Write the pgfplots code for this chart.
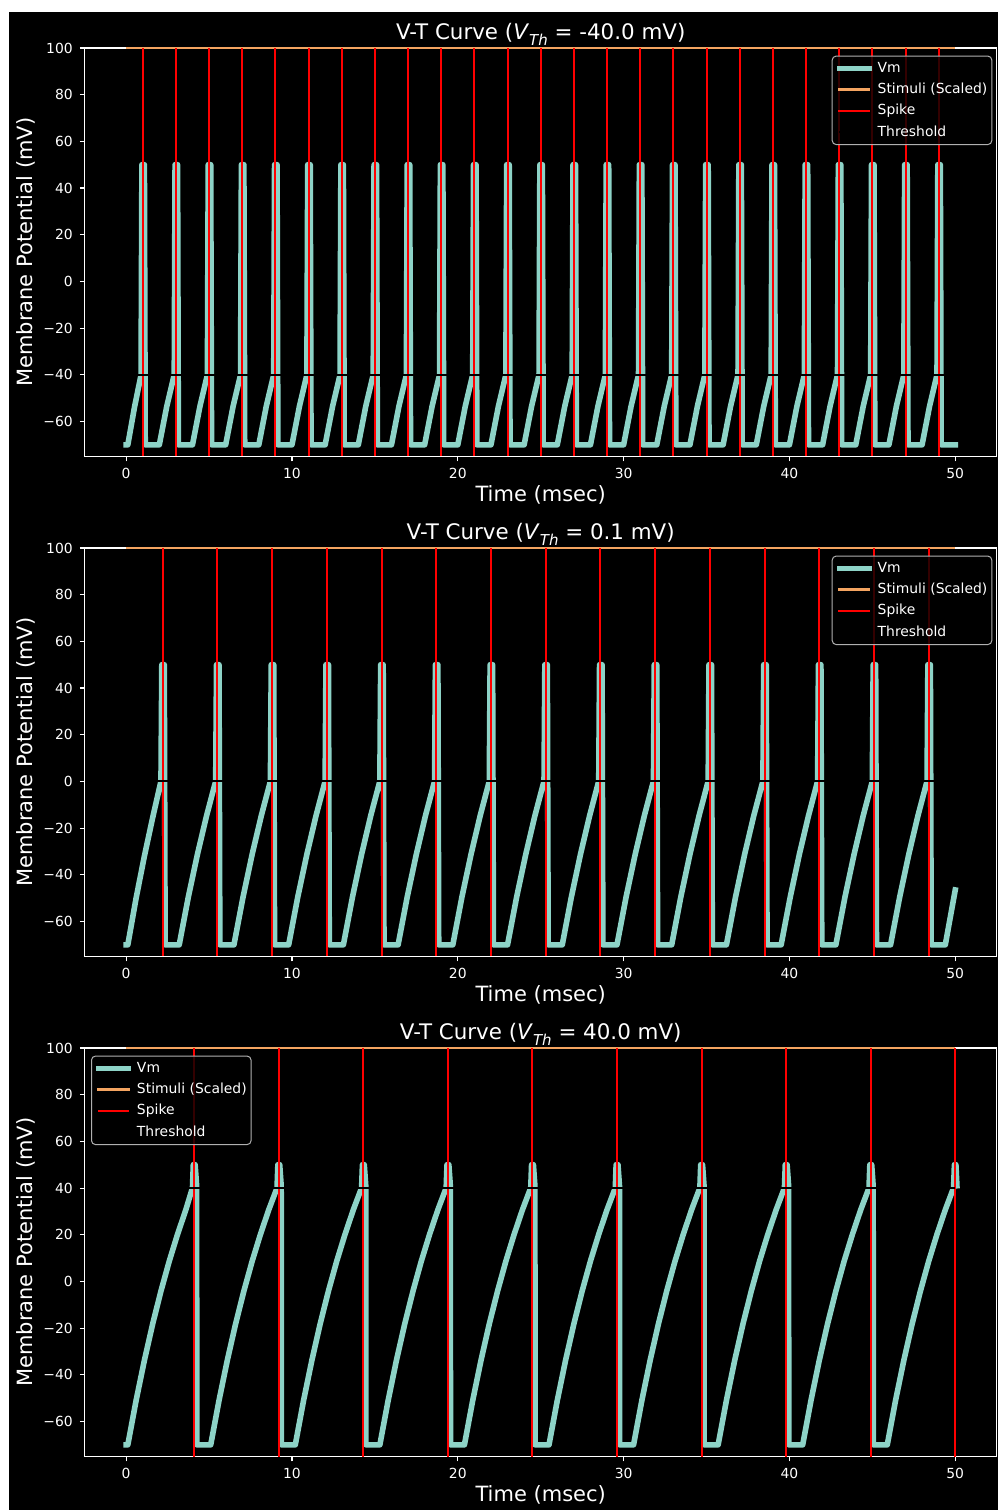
\documentclass[border=0pt]{standalone}
\usepackage{fontspec}
\setmainfont{DejaVu Sans}
\usepackage{pgfplots}
\pgfplotsset{compat=1.18}
\definecolor{vmcol}{HTML}{8DD3C7}
\definecolor{stimcol}{HTML}{F4A460}
\definecolor{legedge}{HTML}{B0B0B0}
\newcommand{\vth}{\textit{V}\raisebox{-0.25em}{\fontsize{7.5}{8}\selectfont\textit{Th}}}
\pgfplotsset{
  vt/.style={
    scale only axis, width=456pt, height=204.25pt,
    xmin=-2.5, xmax=52.5, ymin=-75, ymax=100,
    unbounded coords=jump,
    axis line style={white, line width=0.55pt},
    tick style={white, line width=0.55pt},
    major tick length=2.43pt,
    tick align=outside, tick pos=left,
    xtick={0,10,20,30,40,50},
    xticklabels={0,10,20,30,40,50},
    ytick={-60,-40,-20,0,20,40,60,80,100},
    yticklabels={−60,−40,−20,0,20,40,60,80,100},
    tick label style={font=\fontsize{6.95}{8}\selectfont, text=white},
    xlabel={Time (msec)}, ylabel={Membrane Potential (mV)},
    label style={font=\fontsize{10.5}{12}\selectfont, text=white},
    xlabel style={at={(axis description cs:0.5,-0.1104)}, anchor=base},
    ylabel style={at={(axis description cs:-0.0572,0.5)}, anchor=base},
    title style={at={(axis description cs:0.5,1.0203)}, anchor=base, yshift=-6pt, font=\fontsize{10.7}{12}\selectfont, text=white},
    legend style={fill=black, fill opacity=0.8, text opacity=1, draw=legedge, line width=0.5pt, rounded corners=2pt, text=white, font=\fontsize{6.95}{8}\selectfont, inner xsep=2.2pt, inner ysep=2.75pt, row sep=3.85pt, column sep=3pt, nodes={inner sep=0pt, text height=5.3pt, text depth=1.5pt}},
    legend cell align=left,
    legend image code/.code={\draw[#1, line cap=rect] (0pt,0pt) -- (14.75pt,0pt);},
  },
  vm/.style={vmcol, line width=2.8pt, line join=round, line cap=rect},
  stim/.style={stimcol, line width=1.4pt},
  spk/.style={red, line width=1pt},
  thr/.style={black, line width=0.9pt},
  legR/.style={legend style={at={(1,1)}, anchor=north east, xshift=-2.2pt, yshift=-3.8pt}},
  legL/.style={legend style={at={(0,1)}, anchor=north west, xshift=3.15pt, yshift=-3.8pt}},
}
\begin{document}
\begin{tikzpicture}
\useasboundingbox (0,0) rectangle (499pt,755pt);
\fill[white] (0,0) rectangle (499pt,755pt);
\fill[black] (4.25pt,0) rectangle (499pt,749pt);
% ---------------- Panel 1 ----------------
\begin{axis}[vt, legR, at={(42.35pt,526.75pt)}, anchor=south west,
  title={V-T Curve (\vth{} = -40.0 mV)}]
\addplot[vm] coordinates {
(0,-70) (0.1,-70) (0.5,-54) (0.9,-40) (0.95,50) (1.1,50) (1.15,-70)
(2,-70) (2.45,-53.5) (2.9,-40) (2.95,50) (3.1,50) (3.15,-70)
(4,-70) (4.45,-53.5) (4.9,-40) (4.95,50) (5.1,50) (5.15,-70)
(6,-70) (6.45,-53.5) (6.9,-40) (6.95,50) (7.1,50) (7.15,-70)
(8,-70) (8.45,-53.5) (8.9,-40) (8.95,50) (9.1,50) (9.15,-70)
(10,-70) (10.45,-53.5) (10.9,-40) (10.95,50) (11.1,50) (11.15,-70)
(12,-70) (12.45,-53.5) (12.9,-40) (12.95,50) (13.1,50) (13.15,-70)
(14,-70) (14.45,-53.5) (14.9,-40) (14.95,50) (15.1,50) (15.15,-70)
(16,-70) (16.45,-53.5) (16.9,-40) (16.95,50) (17.1,50) (17.15,-70)
(18,-70) (18.45,-53.5) (18.9,-40) (18.95,50) (19.1,50) (19.15,-70)
(20,-70) (20.45,-53.5) (20.9,-40) (20.95,50) (21.1,50) (21.15,-70)
(22,-70) (22.45,-53.5) (22.9,-40) (22.95,50) (23.1,50) (23.15,-70)
(24,-70) (24.45,-53.5) (24.9,-40) (24.95,50) (25.1,50) (25.15,-70)
(26,-70) (26.45,-53.5) (26.9,-40) (26.95,50) (27.1,50) (27.15,-70)
(28,-70) (28.45,-53.5) (28.9,-40) (28.95,50) (29.1,50) (29.15,-70)
(30,-70) (30.45,-53.5) (30.9,-40) (30.95,50) (31.1,50) (31.15,-70)
(32,-70) (32.45,-53.5) (32.9,-40) (32.95,50) (33.1,50) (33.15,-70)
(34,-70) (34.45,-53.5) (34.9,-40) (34.95,50) (35.1,50) (35.15,-70)
(36,-70) (36.45,-53.5) (36.9,-40) (36.95,50) (37.1,50) (37.15,-70)
(38,-70) (38.45,-53.5) (38.9,-40) (38.95,50) (39.1,50) (39.15,-70)
(40,-70) (40.45,-53.5) (40.9,-40) (40.95,50) (41.1,50) (41.15,-70)
(42,-70) (42.45,-53.5) (42.9,-40) (42.95,50) (43.1,50) (43.15,-70)
(44,-70) (44.45,-53.5) (44.9,-40) (44.95,50) (45.1,50) (45.15,-70)
(46,-70) (46.45,-53.5) (46.9,-40) (46.95,50) (47.1,50) (47.15,-70)
(48,-70) (48.45,-53.5) (48.9,-40) (48.95,50) (49.1,50) (49.15,-70)
(50,-70)};
\addlegendentry{Vm}
\addplot[stim] coordinates {(0,100) (50,100)};
\addlegendentry{Stimuli (Scaled)}
\addplot[spk] coordinates {
(1,-75) (1,100) (1,nan) (3,-75) (3,100) (3,nan) (5,-75) (5,100) (5,nan)
(7,-75) (7,100) (7,nan) (9,-75) (9,100) (9,nan) (11,-75) (11,100) (11,nan)
(13,-75) (13,100) (13,nan) (15,-75) (15,100) (15,nan) (17,-75) (17,100) (17,nan)
(19,-75) (19,100) (19,nan) (21,-75) (21,100) (21,nan) (23,-75) (23,100) (23,nan)
(25,-75) (25,100) (25,nan) (27,-75) (27,100) (27,nan) (29,-75) (29,100) (29,nan)
(31,-75) (31,100) (31,nan) (33,-75) (33,100) (33,nan) (35,-75) (35,100) (35,nan)
(37,-75) (37,100) (37,nan) (39,-75) (39,100) (39,nan) (41,-75) (41,100) (41,nan)
(43,-75) (43,100) (43,nan) (45,-75) (45,100) (45,nan) (47,-75) (47,100) (47,nan)
(49,-75) (49,100)};
\addlegendentry{Spike}
\addplot[thr] coordinates {(0,-40) (50,-40)};
\addlegendentry{Threshold}
\end{axis}
% ---------------- Panel 2 ----------------
\begin{axis}[vt, legR, at={(42.35pt,276.75pt)}, anchor=south west,
  title={V-T Curve (\vth{} = 0.1 mV)}]
\addplot[vm] coordinates {
(0,-70) (0.1,-70) (0.6,-50) (1.1,-32) (1.6,-15.5) (2.1,0.1) (2.15,50) (2.3,50) (2.35,-70)
(3.2,-70) (3.75,-49.5) (4.3,-31.2) (4.85,-14.7) (5.4,0.1) (5.45,50) (5.6,50) (5.65,-70)
(6.5,-70) (7.05,-49.5) (7.6,-31.2) (8.15,-14.7) (8.7,0.1) (8.75,50) (8.9,50) (8.95,-70)
(9.8,-70) (10.35,-49.5) (10.9,-31.2) (11.45,-14.7) (12,0.1) (12.05,50) (12.2,50) (12.25,-70)
(13.1,-70) (13.65,-49.5) (14.2,-31.2) (14.75,-14.7) (15.3,0.1) (15.35,50) (15.5,50) (15.55,-70)
(16.4,-70) (16.95,-49.5) (17.5,-31.2) (18.05,-14.7) (18.6,0.1) (18.65,50) (18.8,50) (18.85,-70)
(19.7,-70) (20.25,-49.5) (20.8,-31.2) (21.35,-14.7) (21.9,0.1) (21.95,50) (22.1,50) (22.15,-70)
(23,-70) (23.55,-49.5) (24.1,-31.2) (24.65,-14.7) (25.2,0.1) (25.25,50) (25.4,50) (25.45,-70)
(26.3,-70) (26.85,-49.5) (27.4,-31.2) (27.95,-14.7) (28.5,0.1) (28.55,50) (28.7,50) (28.75,-70)
(29.6,-70) (30.15,-49.5) (30.7,-31.2) (31.25,-14.7) (31.8,0.1) (31.85,50) (32,50) (32.05,-70)
(32.9,-70) (33.45,-49.5) (34,-31.2) (34.55,-14.7) (35.1,0.1) (35.15,50) (35.3,50) (35.35,-70)
(36.2,-70) (36.75,-49.5) (37.3,-31.2) (37.85,-14.7) (38.4,0.1) (38.45,50) (38.6,50) (38.65,-70)
(39.5,-70) (40.05,-49.5) (40.6,-31.2) (41.15,-14.7) (41.7,0.1) (41.75,50) (41.9,50) (41.95,-70)
(42.8,-70) (43.35,-49.5) (43.9,-31.2) (44.45,-14.7) (45,0.1) (45.05,50) (45.2,50) (45.25,-70)
(46.1,-70) (46.65,-49.5) (47.2,-31.2) (47.75,-14.7) (48.3,0.1) (48.35,50) (48.5,50) (48.55,-70)
(49.4,-70) (50,-46.5)};
\addlegendentry{Vm}
\addplot[stim] coordinates {(0,100) (50,100)};
\addlegendentry{Stimuli (Scaled)}
\addplot[spk] coordinates {
(2.2,-75) (2.2,100) (2.2,nan) (5.5,-75) (5.5,100) (5.5,nan) (8.8,-75) (8.8,100) (8.8,nan)
(12.1,-75) (12.1,100) (12.1,nan) (15.4,-75) (15.4,100) (15.4,nan) (18.7,-75) (18.7,100) (18.7,nan)
(22,-75) (22,100) (22,nan) (25.3,-75) (25.3,100) (25.3,nan) (28.6,-75) (28.6,100) (28.6,nan)
(31.9,-75) (31.9,100) (31.9,nan) (35.2,-75) (35.2,100) (35.2,nan) (38.5,-75) (38.5,100) (38.5,nan)
(41.8,-75) (41.8,100) (41.8,nan) (45.1,-75) (45.1,100) (45.1,nan) (48.4,-75) (48.4,100)};
\addlegendentry{Spike}
\addplot[thr] coordinates {(0,0.1) (50,0.1)};
\addlegendentry{Threshold}
\end{axis}
% ---------------- Panel 3 ----------------
\begin{axis}[vt, legL, at={(42.35pt,26.75pt)}, anchor=south west,
  title={V-T Curve (\vth{} = 40.0 mV)}]
\addplot[vm] coordinates {
(0,-70) (0.1,-70) (0.6,-51) (1.1,-33.8) (1.6,-18.2) (2.1,-4.1) (2.6,8.7) (3.1,20.2) (3.6,30.7) (4,40.1) (4.05,50) (4.16,50) (4.25,41) (4.26,-70)
(5.1,-70) (5.6,-51) (6.1,-33.8) (6.6,-18.2) (7.1,-4.1) (7.6,8.7) (8.1,20.2) (8.6,30.7) (9.1,40.1) (9.15,50) (9.26,50) (9.35,41) (9.36,-70)
(10.2,-70) (10.7,-51) (11.2,-33.8) (11.7,-18.2) (12.2,-4.1) (12.7,8.7) (13.2,20.2) (13.7,30.7) (14.2,40.1) (14.25,50) (14.36,50) (14.45,41) (14.46,-70)
(15.3,-70) (15.8,-51) (16.3,-33.8) (16.8,-18.2) (17.3,-4.1) (17.8,8.7) (18.3,20.2) (18.8,30.7) (19.3,40.1) (19.35,50) (19.46,50) (19.55,41) (19.56,-70)
(20.4,-70) (20.9,-51) (21.4,-33.8) (21.9,-18.2) (22.4,-4.1) (22.9,8.7) (23.4,20.2) (23.9,30.7) (24.4,40.1) (24.45,50) (24.56,50) (24.65,41) (24.66,-70)
(25.5,-70) (26,-51) (26.5,-33.8) (27,-18.2) (27.5,-4.1) (28,8.7) (28.5,20.2) (29,30.7) (29.5,40.1) (29.55,50) (29.66,50) (29.75,41) (29.76,-70)
(30.6,-70) (31.1,-51) (31.6,-33.8) (32.1,-18.2) (32.6,-4.1) (33.1,8.7) (33.6,20.2) (34.1,30.7) (34.6,40.1) (34.65,50) (34.76,50) (34.85,41) (34.86,-70)
(35.7,-70) (36.2,-51) (36.7,-33.8) (37.2,-18.2) (37.7,-4.1) (38.2,8.7) (38.7,20.2) (39.2,30.7) (39.7,40.1) (39.75,50) (39.86,50) (39.95,41) (39.96,-70)
(40.8,-70) (41.3,-51) (41.8,-33.8) (42.3,-18.2) (42.8,-4.1) (43.3,8.7) (43.8,20.2) (44.3,30.7) (44.8,40.1) (44.85,50) (44.96,50) (45.05,41) (45.06,-70)
(45.9,-70) (46.4,-51) (46.9,-33.8) (47.4,-18.2) (47.9,-4.1) (48.4,8.7) (48.9,20.2) (49.4,30.7) (49.9,40.1) (49.95,50) (50.04,50) (50.1,41)};
\addlegendentry{Vm}
\addplot[stim] coordinates {(0,100) (50,100)};
\addlegendentry{Stimuli (Scaled)}
\addplot[spk] coordinates {
(4.1,-75) (4.1,100) (4.1,nan) (9.2,-75) (9.2,100) (9.2,nan) (14.3,-75) (14.3,100) (14.3,nan)
(19.4,-75) (19.4,100) (19.4,nan) (24.5,-75) (24.5,100) (24.5,nan) (29.6,-75) (29.6,100) (29.6,nan)
(34.7,-75) (34.7,100) (34.7,nan) (39.8,-75) (39.8,100) (39.8,nan) (44.9,-75) (44.9,100) (44.9,nan)
(50,-75) (50,100)};
\addlegendentry{Spike}
\addplot[thr] coordinates {(0,40) (50,40)};
\addlegendentry{Threshold}
\end{axis}
\end{tikzpicture}
\end{document}
